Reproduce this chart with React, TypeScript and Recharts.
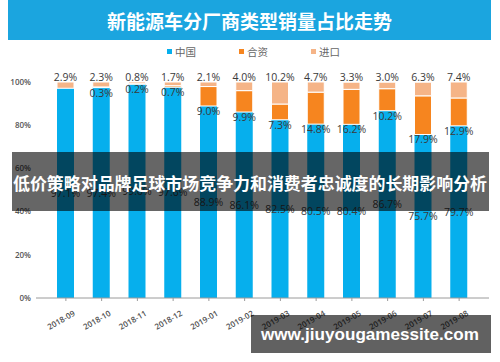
import React from "react";
import { BarChart, Bar, XAxis, YAxis, LabelList } from "recharts";

const months = [
  "2018-09", "2018-10", "2018-11", "2018-12", "2019-01", "2019-02",
  "2019-03", "2019-04", "2019-05", "2019-06", "2019-07", "2019-08",
];
const domestic = [97.1, 97.4, 99.0, 97.6, 88.9, 86.1, 82.5, 80.5, 80.4, 86.7, 75.7, 79.7];
const joint = [0.0, 0.3, 0.2, 0.7, 9.0, 9.9, 7.3, 14.8, 16.2, 10.2, 17.9, 12.9];
const imported = [2.9, 2.3, 0.8, 1.7, 2.1, 4.0, 10.2, 4.7, 3.3, 3.0, 6.3, 7.4];
const yTicks = [0, 20, 40, 60, 80, 100];

const COLORS = {
  domestic: "#06afed",
  joint: "#f6851f",
  imported: "#f5b487",
};

const rows = months.map((month, i) => ({
  month,
  domestic: domestic[i],
  joint: joint[i],
  imported: imported[i],
}));

const FONT = "'Open Sans', 'Noto Sans CJK SC', sans-serif";
const CJK = "'Noto Sans CJK SC', sans-serif";

const fmt = (v: number) => `${v.toFixed(1)}%`;

function MonthTick({ x, y, payload }: any) {
  const ax = x + 8;
  const ay = y + 9;
  return (
    <text
      x={ax}
      y={ay}
      textAnchor="end"
      dominantBaseline="central"
      transform={`rotate(-30, ${ax}, ${ay})`}
      fontSize={8}
      fontWeight={600}
      fontFamily={FONT}
      fill="#505050"
    >
      {payload.value}
    </text>
  );
}

function JointLabel({ x, y, width, height, value }: any) {
  return (
    <text
      x={x + width / 2}
      y={y + height + 5}
      textAnchor="middle"
      dominantBaseline="central"
      fontSize={10.5}
      fontFamily={FONT}
      fill="#3a3a3a"
    >
      {fmt(value)}
    </text>
  );
}

function TopLabel({ x, y, width, value }: any) {
  return (
    <text
      x={x + width / 2}
      y={y - 5}
      textAnchor="middle"
      dominantBaseline="central"
      fontSize={10.5}
      fontFamily={FONT}
      fill="#3a3a3a"
    >
      {fmt(value)}
    </text>
  );
}

const legendItems = [
  { name: "中国", color: COLORS.domestic, left: 167 },
  { name: "合资", color: COLORS.joint, left: 239 },
  { name: "进口", color: COLORS.imported, left: 311 },
];

export default function App() {
  return (
    <div style={{ position: "absolute", left: 0, top: 0, width: 500, height: 362, background: "#fff" }}>
      <div
        style={{
          position: "absolute",
          left: 8,
          top: 0,
          width: 483,
          height: 40,
          background: "#1ba5df",
          color: "#fff",
          fontFamily: CJK,
          fontWeight: 700,
          fontSize: 19,
          lineHeight: "42px",
          textAlign: "center",
        }}
      >
        新能源车分厂商类型销量占比走势
      </div>

      {legendItems.map((item) => (
        <div
          key={item.name}
          style={{
            position: "absolute",
            left: item.left,
            top: 44,
            height: 14,
            display: "flex",
            alignItems: "center",
            fontFamily: CJK,
            fontSize: 10.5,
            color: "#666",
          }}
        >
          <span style={{ width: 5, height: 5, background: item.color, marginRight: 3 }} />
          {item.name}
        </div>
      ))}

      <div style={{ position: "absolute", left: 0, top: 0 }}>
        <BarChart
          width={500}
          height={362}
          data={rows}
          margin={{ top: 82, right: 11, left: 0, bottom: 0 }}
          barSize={17}
        >
          <XAxis
            dataKey="month"
            height={64}
            padding={{ left: 12, right: 12 }}
            stroke="#9a9a9a"
            tickSize={3}
            tick={<MonthTick />}
            interval={0}
          />
          <YAxis
            width={36}
            domain={[0, 100]}
            ticks={yTicks}
            tickFormatter={(v: number) => `${v}%`}
            axisLine={false}
            tickLine={false}
            tickSize={3}
            tickMargin={2}
            tick={{ fontSize: 8, fill: "#555", fontFamily: FONT, fontWeight: 600 }}
          />
          <Bar dataKey="domestic" stackId="a" fill={COLORS.domestic} isAnimationActive={false}>
            <LabelList
              dataKey="domestic"
              position="center"
              formatter={(v: any) => fmt(Number(v))}
              style={{ fontSize: 10.5, fontFamily: FONT, fill: "#3a3a3a" }}
            />
          </Bar>
          <Bar dataKey="joint" stackId="a" fill={COLORS.joint} stroke="#fff" strokeWidth={1} isAnimationActive={false}>
            <LabelList dataKey="joint" content={<JointLabel />} />
          </Bar>
          <Bar dataKey="imported" stackId="a" fill={COLORS.imported} stroke="#fff" strokeWidth={1} isAnimationActive={false}>
            <LabelList dataKey="imported" content={<TopLabel />} />
          </Bar>
        </BarChart>
      </div>

      <svg width={500} height={362} style={{ position: "absolute", left: 0, top: 0, pointerEvents: "none" }}>
        <rect x={12} y={152} width={477} height={59} fill="rgba(0,0,0,0.6)" />
        <text
          x={250}
          y={183}
          textAnchor="middle"
          dominantBaseline="central"
          fontFamily={CJK}
          fontWeight={700}
          fontSize={16.5}
          fill="#fff"
          textLength={474}
          lengthAdjust="spacingAndGlyphs"
        >
          低价策略对品牌足球市场竞争力和消费者忠诚度的长期影响分析
        </text>
        <rect x={251} y={315} width={240} height={38} fill="rgba(0,0,0,0.62)" />
        <text
          x={370}
          y={334}
          textAnchor="middle"
          dominantBaseline="central"
          fontFamily="'Liberation Sans', Arial, sans-serif"
          fontWeight={700}
          fontSize={17}
          fill="#fff"
          textLength={218}
          lengthAdjust="spacingAndGlyphs"
        >
          www.jiuyougamessite.com
        </text>
      </svg>
    </div>
  );
}
